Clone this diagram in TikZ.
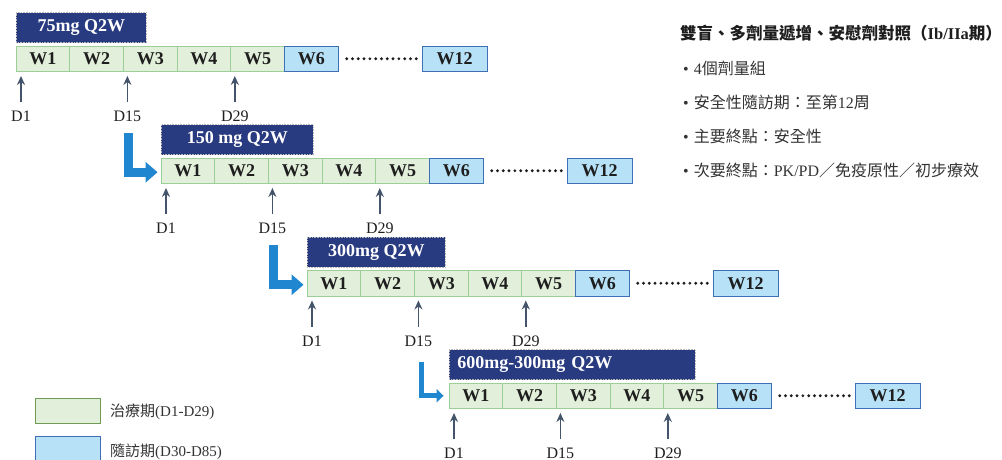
\documentclass[tikz,border=0pt]{standalone}
\usepackage{fontspec}
\setmainfont{Liberation Serif}
\newfontfamily\cjk{Noto Sans CJK TC}
\usetikzlibrary{arrows.meta,calc}
\definecolor{navy}{HTML}{293B80}
\definecolor{cgfill}{HTML}{E2EFDA}
\definecolor{cgdraw}{HTML}{9CCF95}
\definecolor{lgdraw}{HTML}{6F9B55}
\definecolor{cbfill}{HTML}{B7E1F6}
\definecolor{cbdraw}{HTML}{3F70B5}
\definecolor{garrowc}{HTML}{44546A}
\definecolor{lblue}{HTML}{1F86CF}
\definecolor{txt}{HTML}{1E1E1E}
\definecolor{btxt}{HTML}{333333}
\tikzset{
  cellbase/.style={minimum width=53.7pt, minimum height=25.5pt, inner sep=0pt,
     line width=0.9pt, text=txt, font=\bfseries\fontsize{18}{18}\selectfont},
  gcell/.style={cellbase, draw=cgdraw, fill=cgfill},
  bcell/.style={cellbase, draw=cbdraw, fill=cbfill},
  labbox/.style={fill=navy, draw=gray!55, densely dotted, line width=0.6pt,
     minimum height=30pt, inner sep=0pt, text=white, font=\bfseries\fontsize{18}{18}\selectfont, anchor=south west},
  dotline/.style={draw=txt, line width=3.2pt, line cap=round, dash pattern=on 0pt off 5.8pt},
  dlab/.style={font=\fontsize{16}{16}\selectfont, text=txt, inner sep=1pt},
  garrow/.style={draw=garrowc, line width=1.6pt, -{Stealth[width=8pt,length=9pt]}, shorten <=7.6pt},
  barrow/.style={draw=lblue, line width=9pt, -{Triangle[width=20pt,length=12pt]}},
  barrowthin/.style={draw=lblue, line width=5pt, -{Triangle[width=13pt,length=7pt]}},
  rtxt/.style={anchor=west, inner sep=0pt, text=btxt, font=\fontsize{16}{16}\selectfont},
  legbox/.style={minimum width=65pt, minimum height=25pt, inner sep=0pt, line width=0.9pt, anchor=north west},
  legtxt/.style={anchor=west, inner sep=0pt, text=btxt, font=\fontsize{15}{15}\selectfont},
}
% #1 row name, #2 x0, #3 cell top y
\newcommand\weekrow[3]{%
  \foreach \i in {1,...,5} {
    \node[gcell] (#1w\i) at ({#2+(\i-0.5)*53.7},{#3+12.75}) {W\i};
  }
  \node[bcell] (#1w6) at ({#2+5.5*53.7},{#3+12.75}) {W6};
  \node[bcell, minimum width=65pt] (#1w12) at ({#2+406+32.5},{#3+12.75}) {W12};
  \draw[dotline] ($(#1w6.east)+(8,0)$) -- ($(#1w12.west)+(-2,0)$);
  \node[dlab] (#1d1) at ({#2+5},{#3+25.5+45}) {D1};
  \node[dlab] (#1d15) at ({#2+2*53.7+4},{#3+25.5+45}) {D15};
  \node[dlab] (#1d29) at ({#2+4*53.7+4},{#3+25.5+45}) {D29};
  \draw[garrow] (#1d1.north) -- ($(#1d1.north |- #1w1.south)+(0,4)$);
  \draw[garrow] (#1d15.north) -- ($(#1d15.north |- #1w1.south)+(0,4)$);
  \draw[garrow] (#1d29.north) -- ($(#1d29.north |- #1w1.south)+(0,4)$);
}
\begin{document}
\begin{tikzpicture}[x=1pt,y=-1pt]
\useasboundingbox (0,0) rectangle (1002,460);
% rows
\weekrow{ra}{16}{46}
\weekrow{rb}{161}{158}
\weekrow{rc}{307}{270.5}
\weekrow{rd}{449}{383}
% dose labels
\node[labbox, minimum width=130pt] (ralab) at (16,43) {75mg Q2W};
\node[labbox, minimum width=152pt] (rblab) at (161,155) {150 mg Q2W};
\node[labbox, minimum width=138pt] (rclab) at (307,267.5) {300mg Q2W};
\node[labbox, text width=230pt, align=left, inner xsep=8pt] (rdlab) at (449,380) {600mg-300mg Q2W};
% escalation arrows
\draw[barrow] ($(rad15.south)+(1,10)$) |- ($(rbw1.west)+(-3,1.5)$);
\draw[barrow] ($(rbd15.south)+(1,10)$) |- ($(rcw1.west)+(-3,1.5)$);
\draw[barrowthin] ($(rcd15.south)+(3,14)$) |- ($(rdw1.west)+(-5,0)$);
% right text
\node[rtxt, text=txt, font=\bfseries\fontsize{16.5}{16.5}\selectfont] (title) at (680,33)
  {{\cjk 雙盲、多劑量遞增、安慰劑對照（}Ib/IIa{\cjk 期）}};
\node[rtxt] (b1) at (683,68) {•\hspace{5pt}4{\cjk 個劑量組}};
\node[rtxt] (b2) at (683,102) {•\hspace{5pt}{\cjk 安全性隨訪期：至第}12{\cjk 周}};
\node[rtxt] (b3) at (683,136) {•\hspace{5pt}{\cjk 主要終點：安全性}};
\node[rtxt] (b4) at (683,170) {•\hspace{5pt}{\cjk 次要終點：}PK/PD{\cjk ／免疫原性／初步療效}};
% legend
\node[legbox, draw=lgdraw, fill=cgfill] (lg1) at (35,398) {};
\node[legbox, draw=cbdraw, fill=cbfill] (lg2) at (35,436) {};
\node[legtxt] (lt1) at (110,412) {{\cjk 治療期}(D1-D29)};
\node[legtxt] (lt2) at (110,452) {{\cjk 隨訪期}(D30-D85)};
\end{tikzpicture}
\end{document}
